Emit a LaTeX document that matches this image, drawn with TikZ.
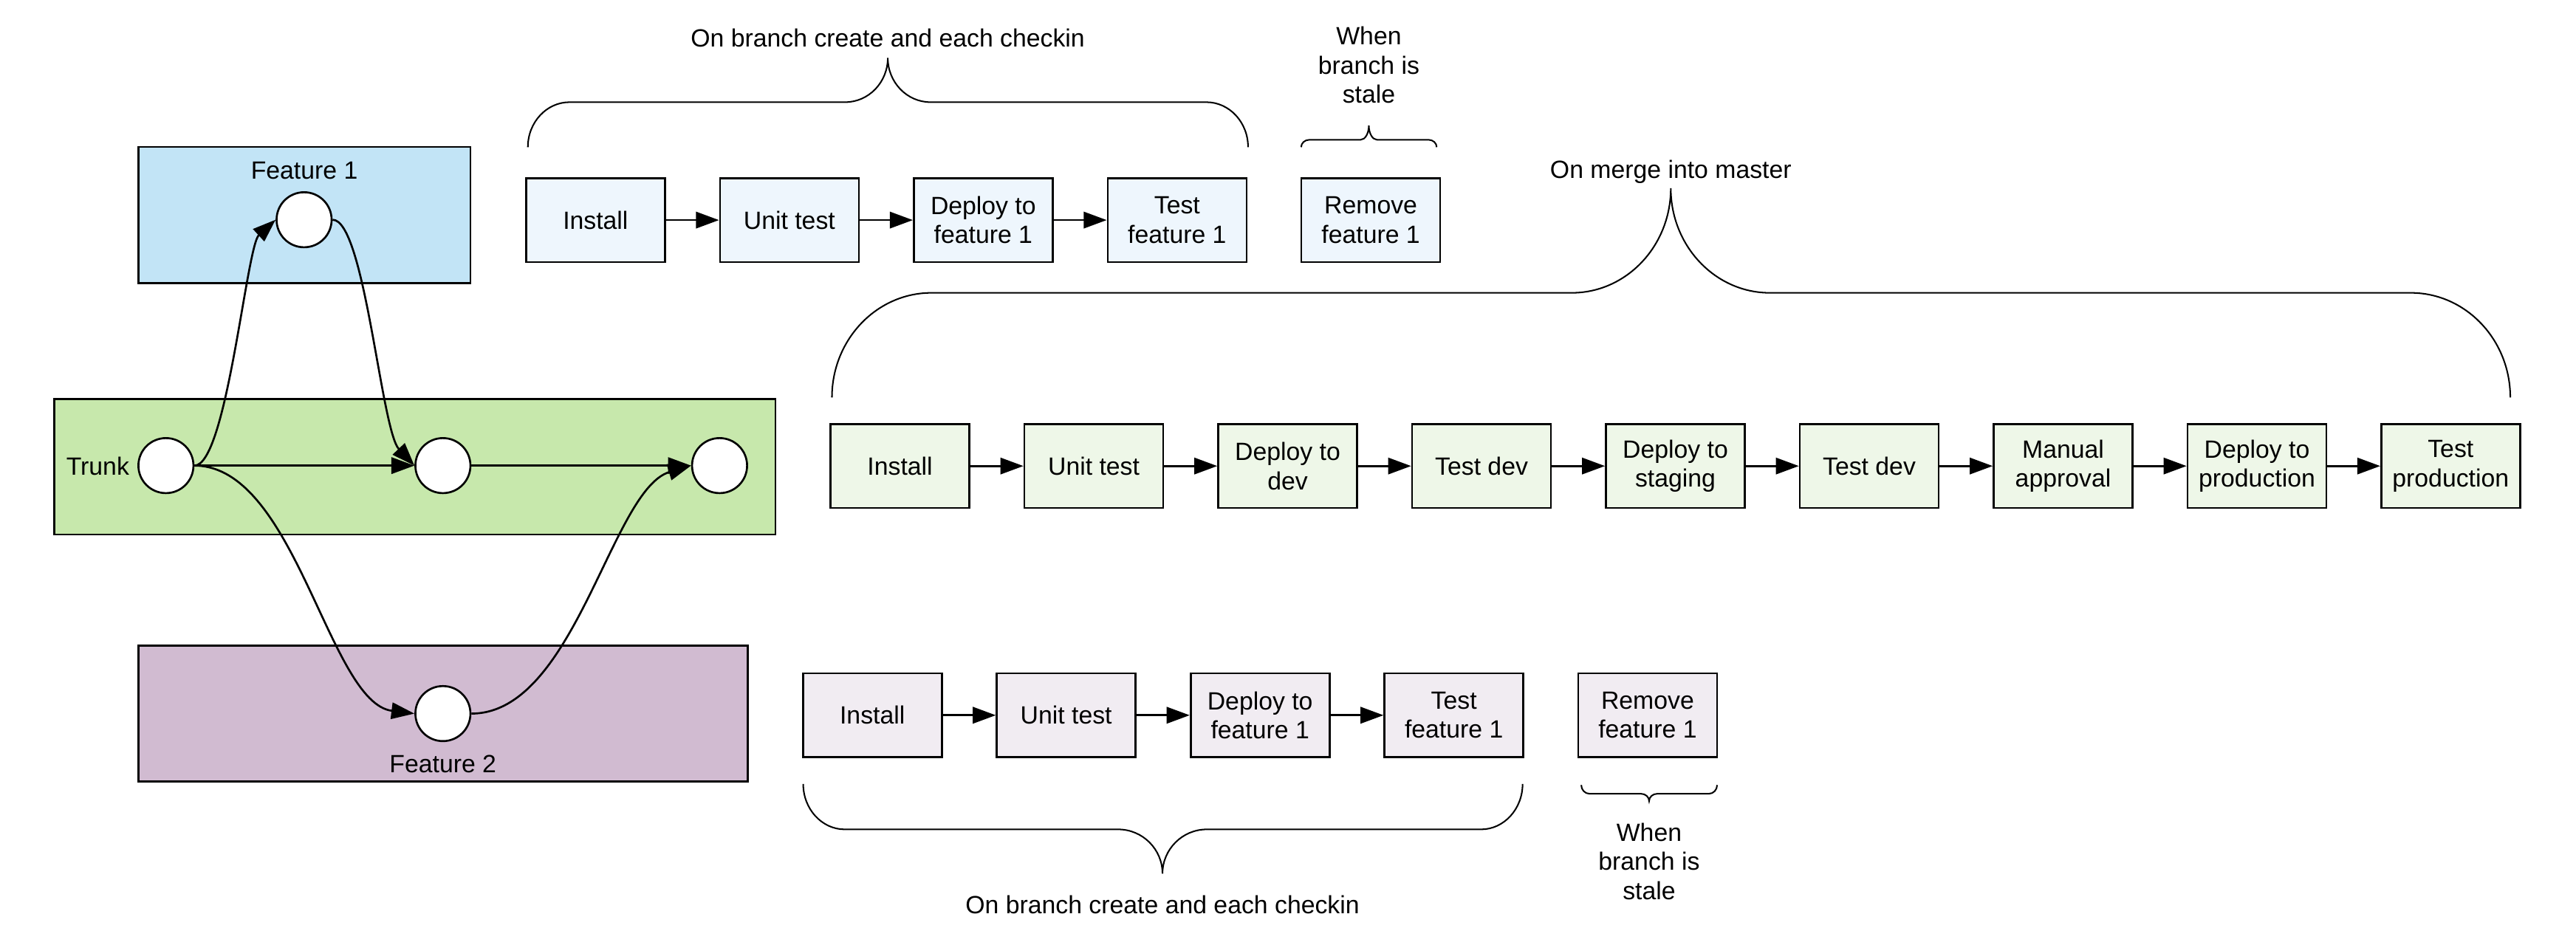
\documentclass[tikz,border=0pt]{standalone}
\usepackage{fontspec}
\setmainfont{Liberation Sans}
\usetikzlibrary{arrows.meta}
\definecolor{fonec}{HTML}{C2E4F6}
\definecolor{trunkc}{HTML}{C7E8AC}
\definecolor{ftwoc}{HTML}{D1BBD1}
\definecolor{ponec}{HTML}{EEF6FD}
\definecolor{pmidc}{HTML}{EEF7E8}
\definecolor{ptwoc}{HTML}{F1ECF2}
% curly brace: L R M E H T c m
\newcommand{\cbrace}[8]{%
 \draw[bracestyle] (#1,#4) .. controls (#1,{#4+0.552*(#5-#4)}) and ({#1+0.448*#7},#5) .. ({#1+#7},#5)
   -- ({#3-#8},#5) .. controls ({#3-0.448*#8},#5) and (#3,{#6+0.552*(#5-#6)}) .. (#3,#6)
   .. controls (#3,{#6+0.552*(#5-#6)}) and ({#3+0.448*#8},#5) .. ({#3+#8},#5)
   -- ({#2-#7},#5) .. controls ({#2-0.448*#7},#5) and (#2,{#4+0.552*(#5-#4)}) .. (#2,#4);}
\begin{document}
\begin{tikzpicture}[x=0.025cm,y=-0.025cm,
  every node/.style={font=\fontsize{10.8}{12.6}\selectfont},
  lane/.style={draw, line width=0.85pt, inner sep=0pt},
  pbox/.style={draw, line width=0.85pt, inner sep=0pt, align=center,
    minimum width=2.1125cm, minimum height=1.275cm},
  commit/.style={draw, circle, fill=white, line width=0.85pt, inner sep=0pt, minimum size=0.8375cm},
  arr/.style={line width=0.85pt, -{Triangle[length=0.35cm,width=0.25cm]}},
  bracestyle/.style={line width=0.65pt},
  lbl/.style={align=center, inner sep=0pt}]
\useasboundingbox (0,0) rectangle (1568,575);
\fill[white] (0,0) rectangle (1568,575);

% lanes
\node[lane, fill=fonec, minimum width=5.0525cm, minimum height=2.075cm] (lf1) at (185.25,131) {};
\node[lane, fill=trunkc, minimum width=10.9725cm, minimum height=2.0625cm] (ltr) at (252.55,284.25) {};
\node[lane, fill=ftwoc, minimum width=9.27cm, minimum height=2.065cm] (lf2) at (269.6,434.5) {};
\node[lbl] (tf1) at (185.25,104) {Feature 1};
\node[lbl] (ttr) at (59.5,284) {Trunk};
\node[lbl] (tf2) at (269.6,465) {Feature 2};

% commits
\node[commit] (c1) at (185.1,133.8) {};
\node[commit] (t1) at (101,283.5) {};
\node[commit] (t2) at (269.6,283.5) {};
\node[commit] (t3) at (438,283.5) {};
\node[commit] (c2) at (269.6,434.5) {};

\draw[arr] (t1.east) -- (t2.west);
\draw[arr] (t2.east) -- (t3.west);
\draw[arr] (t1.east) .. controls (138,283.5) and (150,150) .. (c1.west);
\draw[arr] (c1.east) .. controls (222,133.8) and (232,262) .. (t2.west);
\draw[arr] (t1.east) .. controls (180,283.5) and (200,428) .. (c2.west);
\draw[arr] (c2.east) .. controls (350,434.5) and (372,298) .. (t3.west);

% top pipeline
\node[pbox, fill=ponec] (a1) at (362.5,134) {Install};
\node[pbox, fill=ponec] (a2) at (480.5,134) {Unit test};
\node[pbox, fill=ponec] (a3) at (598.5,134) {Deploy to\\feature 1};
\node[pbox, fill=ponec] (a4) at (716.5,134) {Test\\feature 1};
\node[pbox, fill=ponec] (a5) at (834.4,134) {Remove\\feature 1};
\draw[arr] (a1) -- (a2);
\draw[arr] (a2) -- (a3);
\draw[arr] (a3) -- (a4);

% middle pipeline
\node[pbox, fill=pmidc] (m1) at (547.8,283.75) {Install};
\node[pbox, fill=pmidc] (m2) at (665.8,283.75) {Unit test};
\node[pbox, fill=pmidc] (m3) at (783.8,283.75) {Deploy to\\dev};
\node[pbox, fill=pmidc] (m4) at (901.8,283.75) {Test dev};
\node[pbox, fill=pmidc] (m5) at (1019.8,283.75) {Deploy to\\staging};
\node[pbox, fill=pmidc] (m6) at (1137.8,283.75) {Test dev};
\node[pbox, fill=pmidc] (m7) at (1255.8,283.75) {Manual\\approval};
\node[pbox, fill=pmidc] (m8) at (1373.8,283.75) {Deploy to\\production};
\node[pbox, fill=pmidc] (m9) at (1491.7,283.75) {Test\\production};
\foreach \a/\b in {m1/m2,m2/m3,m3/m4,m4/m5,m5/m6,m6/m7,m7/m8,m8/m9}
  \draw[arr] (\a) -- (\b);

% bottom pipeline
\node[pbox, fill=ptwoc] (b1) at (531,435.5) {Install};
\node[pbox, fill=ptwoc] (b2) at (649,435.5) {Unit test};
\node[pbox, fill=ptwoc] (b3) at (767,435.5) {Deploy to\\feature 1};
\node[pbox, fill=ptwoc] (b4) at (885,435.5) {Test\\feature 1};
\node[pbox, fill=ptwoc] (b5) at (1002.9,435.5) {Remove\\feature 1};
\draw[arr] (b1) -- (b2);
\draw[arr] (b2) -- (b3);
\draw[arr] (b3) -- (b4);

% braces
\cbrace{321.3}{759.7}{540.4}{89.6}{62.2}{35.2}{25.4}{26}
\cbrace{792}{874.5}{833.2}{89.6}{85.1}{76.4}{5}{5}
\cbrace{506.4}{1528}{1017}{242}{178.3}{114.6}{60.6}{60.3}
\cbrace{488.9}{926.8}{707.6}{477.3}{505}{532}{25.3}{27}
\cbrace{962.5}{1045.2}{1003.8}{478}{483.3}{487.7}{5}{5}

% brace labels
\node[lbl] (l1) at (540.4,23.2) {On branch create and each checkin};
\node[lbl] (l2) at (833.2,39.7) {When\\branch is\\stale};
\node[lbl] (l3) at (1017,104.5) {On merge into master};
\node[lbl] (l4) at (707.6,550.7) {On branch create and each checkin};
\node[lbl] (l5) at (1003.8,524.5) {When\\branch is\\stale};
\end{tikzpicture}
\end{document}
